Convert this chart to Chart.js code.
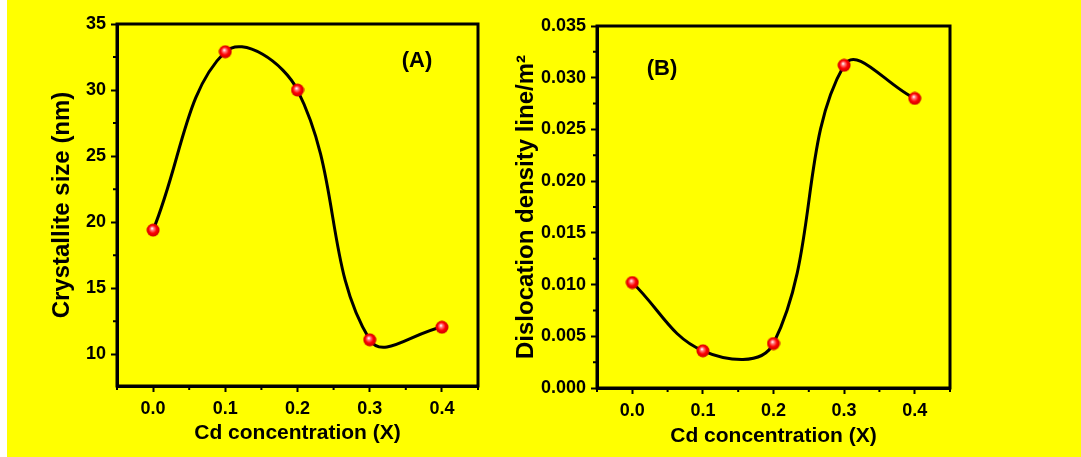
<!DOCTYPE html>
<html>
<head>
<meta charset="utf-8">
<script src="https://cdn.jsdelivr.net/npm/chart.js@4.4.1/dist/chart.umd.min.js"></script>
<style>
  html, body { margin: 0; padding: 0; background: #fff; }
  #wrap { position: relative; width: 1081px; height: 457px; overflow: hidden; }
  #bg { position: absolute; left: 7px; top: 0; width: 1074px; height: 457px; background: #ffff00; }
  canvas { position: absolute; top: 0; }
</style>
</head>
<body>
<div id="wrap">
  <div id="bg"></div>
  <canvas id="chart-size" width="500" height="457" style="left:0"></canvas>
  <canvas id="chart-density" width="581" height="457" style="left:500px"></canvas>
</div>
<script>
// ---- data ----
const cdConcentration = [0.0, 0.1, 0.2, 0.3, 0.4];
const crystalliteSize = [19.4, 32.9, 30.0, 11.1, 12.05];
const dislocationDensity = [0.0102, 0.0036, 0.0043, 0.0312, 0.0280];

const xTicks = [0.0, 0.1, 0.2, 0.3, 0.4];
const sizeTicks = [10, 15, 20, 25, 30, 35];
const densityTicks = [0.000, 0.005, 0.010, 0.015, 0.020, 0.025, 0.030, 0.035];

const FONT = "'Liberation Sans', Arial, sans-serif";
const tickFont = { family: FONT, size: 18, weight: 'bold' };

// red glossy ball used as the marker
function makeBall(size) {
  const c = document.createElement('canvas');
  c.width = c.height = size;
  const g = c.getContext('2d');
  const r = size / 2;
  const grad = g.createRadialGradient(r * 0.85, r * 0.75, 0.3, r, r, r);
  grad.addColorStop(0, '#ffffff');
  grad.addColorStop(0.2, '#ff8080');
  grad.addColorStop(0.55, '#ff0000');
  grad.addColorStop(1, '#c00000');
  g.fillStyle = grad;
  g.beginPath();
  g.arc(r, r, r - 0.5, 0, Math.PI * 2);
  g.fill();
  return c;
}
const ball = makeBall(14);

// midpoints between major ticks (plus one step beyond each end)
function minorTicks(ticks) {
  const step = ticks[1] - ticks[0];
  const out = ticks.map(v => v - step / 2);
  out.push(ticks[ticks.length - 1] + step / 2);
  return out;
}

// box frame, minor ticks and the panel letter
const framePlugin = {
  id: 'framePlugin',
  beforeDatasetsDraw(chart, args, opts) {
    const { ctx, chartArea: a, scales: { x, y } } = chart;
    ctx.save();
    ctx.strokeStyle = '#000';
    ctx.lineWidth = 2;
    ctx.beginPath();
    for (const v of minorTicks(xTicks)) {
      if (v < x.min || v > x.max) continue;
      const px = x.getPixelForValue(v);
      ctx.moveTo(px, a.bottom);
      ctx.lineTo(px, a.bottom + 4);
    }
    for (const v of minorTicks(opts.yTicks)) {
      if (v < y.min || v > y.max) continue;
      const py = y.getPixelForValue(v);
      ctx.moveTo(a.left, py);
      ctx.lineTo(a.left - 4, py);
    }
    ctx.stroke();
    ctx.lineWidth = 3;
    ctx.strokeRect(a.left, a.top, a.right - a.left, a.bottom - a.top);
    ctx.fillStyle = '#000';
    ctx.font = 'bold 22px ' + FONT;
    ctx.textAlign = 'center';
    ctx.textBaseline = 'middle';
    ctx.fillText(opts.label, a.left + opts.labelDx, a.top + opts.labelDy);
    ctx.restore();
  }
};

function makeChart(canvasId, values, yTicks, yMin, yMax, yTitle, cfg) {
  const ctx = document.getElementById(canvasId).getContext('2d');
  return new Chart(ctx, {
    type: 'line',
    data: {
      datasets: [{
        data: cdConcentration.map((x, i) => ({ x, y: values[i] })),
        borderColor: '#000',
        borderWidth: 3,
        tension: cfg.tension,
        pointStyle: ball,
        pointRadius: 7,
        pointHoverRadius: 7
      }]
    },
    options: {
      responsive: false,
      animation: false,
      layout: { padding: cfg.padding },
      plugins: {
        legend: { display: false },
        tooltip: { enabled: false },
        framePlugin: { yTicks, label: cfg.label, labelDx: cfg.labelDx, labelDy: cfg.labelDy }
      },
      scales: {
        x: {
          type: 'linear',
          min: -0.05,
          max: 0.45,
          afterBuildTicks: s => { s.ticks = xTicks.map(v => ({ value: v })); },
          afterFit: s => { s.height = cfg.xHeight; },
          ticks: { color: '#000', font: tickFont, padding: 6, callback: v => v.toFixed(1) },
          grid: { drawOnChartArea: false, tickLength: 6, tickWidth: 2, tickColor: '#000' },
          border: { display: true, color: '#000', width: 3 },
          title: {
            display: true, text: 'Cd concentration (X)', color: '#000',
            font: { family: FONT, size: 21, weight: 'bold' },
            padding: { top: 0, bottom: cfg.xTitlePad }
          }
        },
        y: {
          type: 'linear',
          min: yMin,
          max: yMax,
          afterBuildTicks: s => { s.ticks = yTicks.map(v => ({ value: v })); },
          afterFit: s => { s.width = cfg.yWidth; },
          ticks: { color: '#000', font: tickFont, padding: 5, callback: cfg.yFormat },
          grid: { drawOnChartArea: false, tickLength: 6, tickWidth: 2, tickColor: '#000' },
          border: { display: true, color: '#000', width: 3 },
          title: {
            display: true, text: yTitle, color: '#000',
            font: { family: FONT, size: 24, weight: 'bold' },
            padding: { top: cfg.yTitlePad, bottom: 0 }
          }
        }
      }
    },
    plugins: [framePlugin]
  });
}

makeChart('chart-size', crystalliteSize, sizeTicks, 7.6, 35, 'Crystallite size (nm)', {
  tension: 0.4,
  padding: { left: 0, top: 24, right: 22, bottom: 0 },
  xHeight: 71, yWidth: 117, xTitlePad: 11, yTitlePad: 48,
  yFormat: v => String(v),
  label: '(A)', labelDx: 300, labelDy: 37
});

makeChart('chart-density', dislocationDensity, densityTicks, 0, 0.035, 'Dislocation density line/m\u00B2', {
  tension: 0.4,
  padding: { left: 0, top: 26, right: 131, bottom: 0 },
  xHeight: 69, yWidth: 97, xTitlePad: 8, yTitlePad: 12,
  yFormat: v => v.toFixed(3),
  label: '(B)', labelDx: 65, labelDy: 43
});
</script>
</body>
</html>
